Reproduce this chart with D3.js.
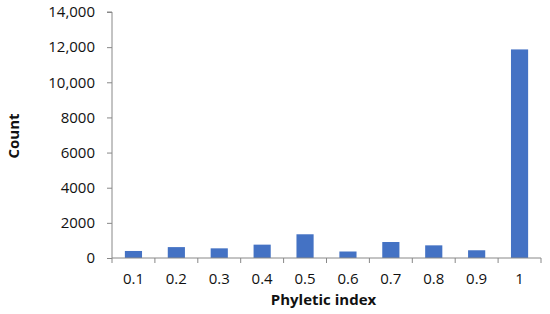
<!DOCTYPE html>
<html>
<head>
<meta charset="utf-8">
<script src="https://cdn.jsdelivr.net/npm/d3@7"></script>
<style>
  body { margin: 0; background: #fff; }
  text { font-family: "Open Sans", sans-serif; fill: #111; }
</style>
</head>
<body>
<script>
// Data
const categories = ['0.1', '0.2', '0.3', '0.4', '0.5', '0.6', '0.7', '0.8', '0.9', '1'];
const counts = [400, 620, 550, 760, 1350, 370, 910, 720, 440, 11870];
const yTicks = [0, 2000, 4000, 6000, 8000, 10000, 12000, 14000];
const yTickLabels = ['0', '2000', '4000', '6000', '8000', '10,000', '12,000', '14,000'];

const width = 550;
const height = 314;
const margin = { top: 12, right: 9, bottom: 56, left: 112 };
const innerW = width - margin.left - margin.right;
const innerH = height - margin.top - margin.bottom;

const svg = d3.select('body')
    .append('svg')
    .attr('width', width)
    .attr('height', height);

const g = svg.append('g')
    .attr('transform', `translate(${margin.left},${margin.top})`);

const x = d3.scaleBand()
    .domain(categories)
    .range([0, innerW])
    .paddingInner(0.6)
    .paddingOuter(0.3);

const y = d3.scaleLinear()
    .domain([0, 14000])
    .range([innerH, 0]);

// Bars
g.selectAll('rect')
    .data(counts)
    .enter().append('rect')
    .attr('x', (d, i) => x(categories[i]))
    .attr('y', d => y(d))
    .attr('width', x.bandwidth())
    .attr('height', d => innerH - y(d))
    .attr('fill', '#4472C4');

// Y axis
const yAxis = g.append('g')
    .call(d3.axisLeft(y)
        .tickValues(yTicks)
        .tickFormat((d, i) => yTickLabels[i])
        .tickSize(5)
        .tickPadding(12));
yAxis.select('.domain').attr('stroke', '#888').attr('d', `M-5,0H0V${innerH}`);
yAxis.selectAll('.tick line').attr('stroke', '#888');
yAxis.selectAll('.tick text').attr('font-size', 15).attr('font-family', '"Open Sans", sans-serif');

// X axis with ticks between categories (Excel style)
const xAxis = g.append('g')
    .attr('transform', `translate(0,${innerH})`);
xAxis.append('line')
    .attr('x1', 0).attr('x2', innerW)
    .attr('stroke', '#888');
const boundaries = d3.range(categories.length + 1).map(i => i * innerW / categories.length);
xAxis.selectAll('.xt')
    .data(boundaries)
    .enter().append('line')
    .attr('x1', d => d).attr('x2', d => d)
    .attr('y1', 0).attr('y2', 5)
    .attr('stroke', '#888');
xAxis.selectAll('.xl')
    .data(categories)
    .enter().append('text')
    .attr('x', d => x(d) + x.bandwidth() / 2)
    .attr('y', 26)
    .attr('text-anchor', 'middle')
    .attr('font-size', 15)
    .text(d => d);

// Axis titles
svg.append('text')
    .attr('x', margin.left + innerW / 2 - 3)
    .attr('y', 305)
    .attr('text-anchor', 'middle')
    .attr('font-size', 15)
    .attr('font-weight', 'bold')
    .text('Phyletic index');

svg.append('text')
    .attr('transform', `translate(19,136) rotate(-90)`)
    .attr('text-anchor', 'middle')
    .attr('font-size', 15)
    .attr('font-weight', 'bold')
    .text('Count');
</script>
</body>
</html>
